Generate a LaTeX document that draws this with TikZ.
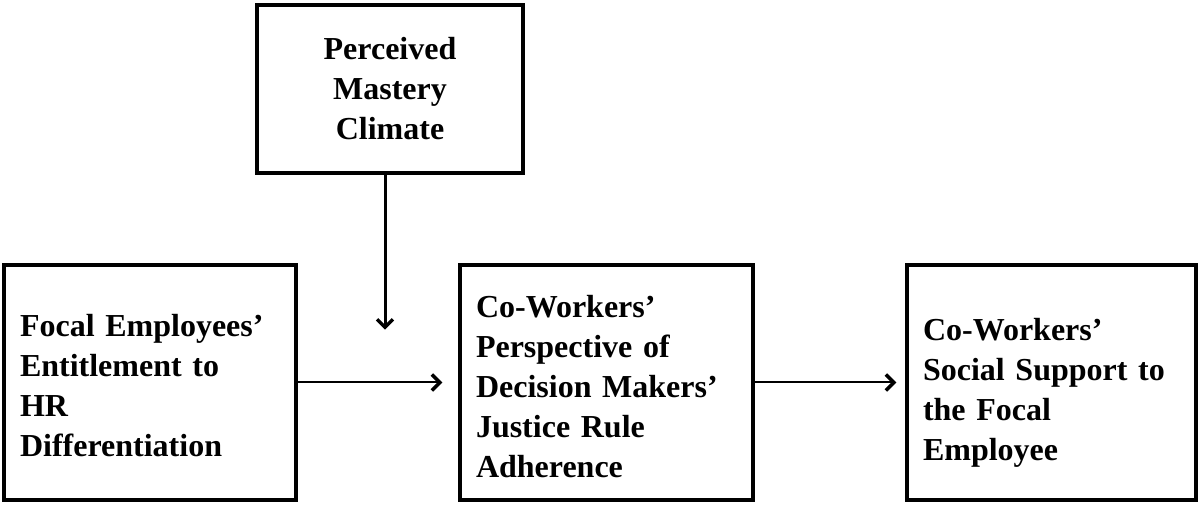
\documentclass[tikz,border=0pt]{standalone}
\usepackage{fontspec}
\setmainfont{Liberation Serif}
\usetikzlibrary{positioning,arrows.meta}

\begin{document}
\begin{tikzpicture}[x=1pt, y=1pt,
varbox/.style={rectangle, draw=black, line width=3.5pt, inner xsep=16pt, inner ysep=0pt, minimum height=235pt, text width=260pt, align=left, font=\fontsize{32}{40}\selectfont\bfseries},
modbox/.style={varbox, align=center},
link/.style={line width=2pt, -{Straight Barb[length=8pt,width=16pt,line width=3.5pt]}},
]
\useasboundingbox (0,0) rectangle (1199,505);
%Nodes
\node[modbox, text width=234pt, minimum height=168pt] (climate) at (390,416) {Perceived\\Mastery\\Climate};
\node[varbox, text height=29pt]                   (focal)   at (150,122.5)           {Focal Employees'\\Entitlement to\\HR\\Differentiation};
\node[varbox, text width=261pt, text height=31pt] (cow)     [right=160.5pt of focal] {Co-Workers'\\Perspective of\\Decision Makers'\\Justice Rule\\Adherence};
\node[varbox, text width=257pt, text height=43pt] (support) [right=150.5pt of cow]   {Co-Workers'\\Social Support to\\the Focal\\Employee};
\coordinate (modtip) at ([xshift=-5pt,yshift=-155pt]climate.south);

%Lines
\draw[link, shorten >=16pt] (focal.east) -- (cow.west);
\draw[link, shorten >=9pt] (cow.east) -- (support.west);
\draw[link, line width=3pt] ([xshift=-5pt]climate.south) -- (modtip);
\end{tikzpicture}
\end{document}
